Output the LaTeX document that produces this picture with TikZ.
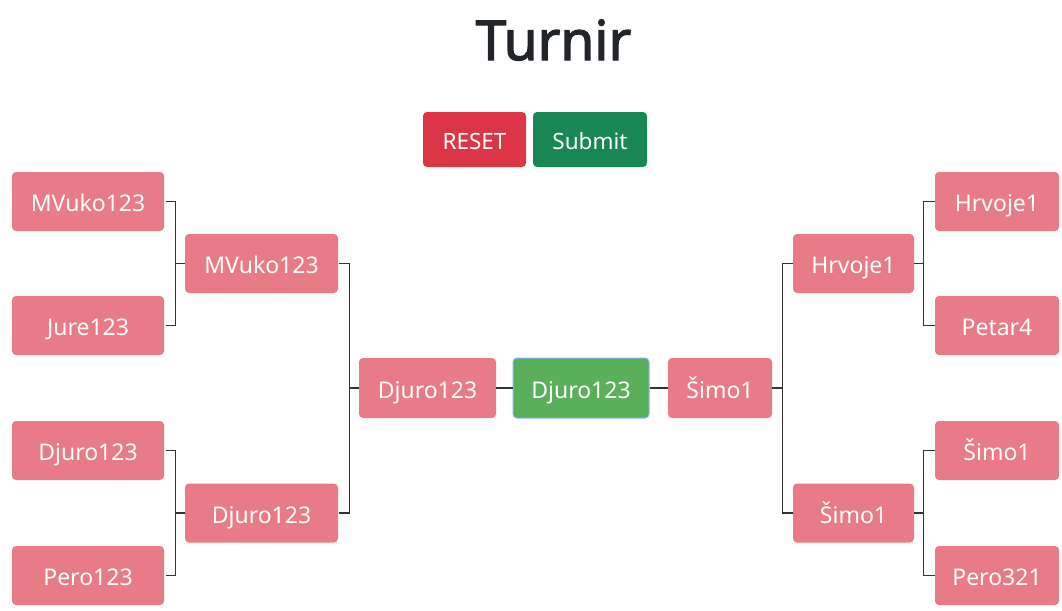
\documentclass[tikz,border=0pt]{standalone}
\usepackage{fontspec}
\setmainfont{Noto Sans}
\newfontfamily\titlefont[AutoFakeBold=2.2]{Noto Sans}
\definecolor{boxpink}{HTML}{E97B86}
\definecolor{wingreen}{HTML}{5AAF5A}
\definecolor{winborder}{HTML}{86B7FE}
\definecolor{resetred}{HTML}{DC3545}
\definecolor{submitgreen}{HTML}{198754}
\definecolor{titlegray}{HTML}{212529}
\definecolor{linegray}{HTML}{333333}
\tikzset{
  player/.style={fill=boxpink, draw=none, rounded corners=4pt, inner sep=0pt,
    text=white, font=\fontsize{23}{25}\selectfont, text height=20pt, text depth=0pt},
  winner/.style={player, fill=wingreen, draw=winborder, line width=1pt},
  btn/.style={rounded corners=4pt, inner sep=0pt, text=white,
    font=\fontsize{22.5}{24}\selectfont, text height=20pt, text depth=0pt,
    minimum height=55pt},
  link/.style={draw=linegray, line width=1.3pt}
}
\begin{document}
\begin{tikzpicture}[x=1pt, y=-1pt]
\useasboundingbox (0,0) rectangle (1062,610);
% title
\node[anchor=base, text=titlegray, font=\titlefont\bfseries\fontsize{55}{60}\selectfont] (title) at (553.5,60) {Turnir};
% buttons
\node[btn, fill=resetred, minimum width=103pt] (reset) at (474.5,139.5) {RESET};
\node[btn, fill=submitgreen, minimum width=114pt] (submit) at (590,139.5) {Submit};
% left round 1
\node[player, minimum width=152pt, minimum height=59pt] (l1) at (88,201.5) {MVuko123};
\node[player, minimum width=152pt, minimum height=59pt] (l2) at (88,325.5) {Jure123};
\node[player, minimum width=152pt, minimum height=59pt] (l3) at (88,450.5) {Djuro123};
\node[player, minimum width=152pt, minimum height=59pt] (l4) at (88,575.5) {Pero123};
% left round 2
\node[player, minimum width=153pt, minimum height=59pt] (lq1) at (261.5,263.5) {MVuko123};
\node[player, minimum width=153pt, minimum height=59pt] (lq2) at (261.5,513) {Djuro123};
% semis and final
\node[player, minimum width=137pt, minimum height=60pt] (ls) at (427.5,388) {Djuro123};
\node[winner, minimum width=136pt, minimum height=60pt] (fin) at (581,388) {Djuro123};
\node[player, minimum width=104pt, minimum height=60pt] (rs) at (720,388) {Šimo1};
% right round 2
\node[player, minimum width=121pt, minimum height=59pt] (rq1) at (853.5,263.5) {Hrvoje1};
\node[player, minimum width=121pt, minimum height=59pt] (rq2) at (853.5,513) {Šimo1};
% right round 1
\node[player, minimum width=124pt, minimum height=59pt] (r1) at (997,201.5) {Hrvoje1};
\node[player, minimum width=124pt, minimum height=59pt] (r2) at (997,325.5) {Petar4};
\node[player, minimum width=124pt, minimum height=59pt] (r3) at (997,450.5) {Šimo1};
\node[player, minimum width=124pt, minimum height=59pt] (r4) at (997,575.5) {Pero321};
% left connectors
\draw[link] ([xshift=2pt]l1.east) -- ++(9,0) |- (lq1.west);
\draw[link] ([xshift=2pt]l2.east) -- ++(9,0) |- (lq1.west);
\draw[link] ([xshift=2pt]l3.east) -- ++(9,0) |- (lq2.west);
\draw[link] ([xshift=2pt]l4.east) -- ++(9,0) |- (lq2.west);
\draw[link] ([xshift=1pt]lq1.east) -- ++(10,0) |- (ls.west);
\draw[link] ([xshift=1pt]lq2.east) -- ++(10,0) |- (ls.west);
% centre connectors
\draw[link] (ls.east) -- (fin.west);
\draw[link] (fin.east) -- (rs.west);
% right connectors
\draw[link] (r1.west) -- ++(-11,0) |- (rq1.east);
\draw[link] (r2.west) -- ++(-11,0) |- (rq1.east);
\draw[link] (r3.west) -- ++(-11,0) |- (rq2.east);
\draw[link] (r4.west) -- ++(-11,0) |- (rq2.east);
\draw[link] (rq1.west) -- ++(-10,0) |- (rs.east);
\draw[link] (rq2.west) -- ++(-10,0) |- (rs.east);
\end{tikzpicture}
\end{document}
